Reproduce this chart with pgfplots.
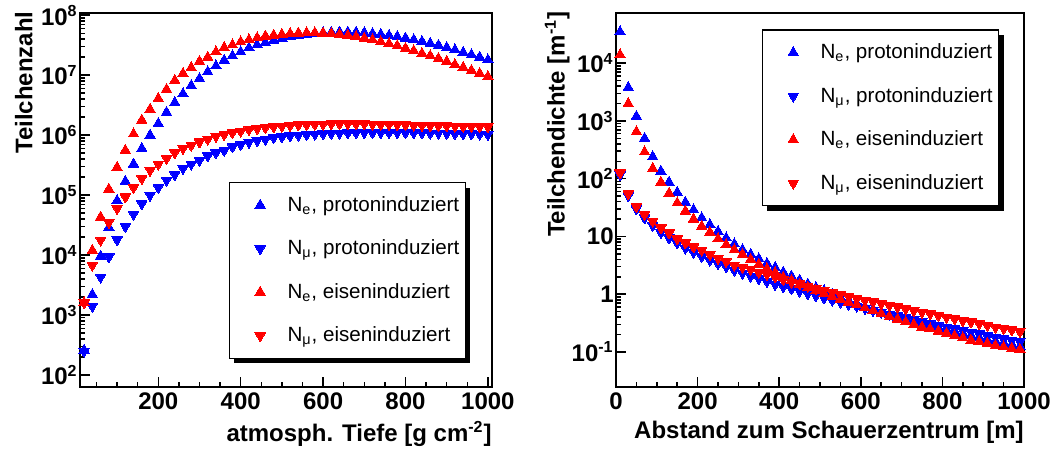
\documentclass[border=0pt]{standalone}
\usepackage{fontspec}
\setmainfont{Liberation Sans}
\usepackage{pgfplots}
\usepackage{pgfplotstable}
\pgfplotsset{compat=1.18}
\usetikzlibrary{shadows}

\pgfplotstableread{
x nep nmup nefe nmufe
20 260 250 1600 1600
40 2200 1400 12000 6800
60 9600 4300 43000 17800
80 29000 9300 126000 35000
100 81000 18000 290000 60000
120 170000 30000 560000 93000
140 330000 48000 1050000 134000
160 600000 72000 1780000 190000
180 1000000 100000 2700000 260000
200 1560000 134000 4100000 330000
220 2400000 178000 5800000 410000
240 3500000 220000 8200000 510000
260 4900000 280000 10700000 600000
280 6700000 330000 13400000 680000
300 8800000 380000 17000000 770000
320 11400000 450000 20000000 860000
340 14300000 510000 24500000 960000
360 17800000 560000 29000000 1030000
380 21000000 640000 32000000 1100000
400 24500000 700000 36000000 1170000
420 28500000 760000 39000000 1240000
440 32000000 810000 42000000 1290000
460 35000000 850000 45000000 1340000
480 38000000 910000 46500000 1380000
500 41000000 940000 48000000 1420000
520 43500000 970000 49500000 1450000
540 46000000 1000000 50500000 1480000
560 48000000 1020000 51000000 1500000
580 49500000 1040000 51000000 1520000
600 51000000 1060000 50500000 1530000
620 52000000 1070000 49500000 1540000
640 52500000 1080000 48000000 1550000
660 52500000 1090000 46000000 1550000
680 52000000 1100000 44000000 1550000
700 51000000 1100000 41500000 1540000
720 49500000 1100000 39000000 1530000
740 48000000 1100000 36000000 1520000
760 46000000 1100000 33500000 1510000
780 44000000 1100000 31000000 1500000
800 41500000 1100000 28000000 1490000
820 39000000 1090000 25500000 1470000
840 36500000 1090000 23000000 1460000
860 34000000 1080000 21000000 1450000
880 31500000 1080000 19000000 1440000
900 29000000 1070000 17000000 1430000
920 26500000 1060000 15000000 1420000
940 24000000 1050000 13500000 1410000
960 22000000 1050000 12000000 1400000
980 20000000 1040000 10700000 1390000
1000 18000000 1030000 9500000 1380000
}\tabdepth

\pgfplotstableread{
x nep nmup nefe nmufe
10 35000 117 14000 126
30 3800 51 2000 55
50 1200 30 650 33
70 500 21 290 24
90 240 15.5 150 18.4
110 135 11.8 87 14
130 87 9.4 56 11.5
150 58 7.7 38 9.1
170 39 6.3 27.5 7.7
190 29 5.3 20 6.6
210 21 4.5 15 5.8
230 16 3.9 11.8 4.9
250 12.2 3.4 9.1 4.2
270 9.4 3.0 7.2 3.7
290 7.4 2.6 5.9 3.2
310 5.9 2.3 4.9 2.95
330 4.9 2.05 4.0 2.7
350 4.1 1.85 3.3 2.4
370 3.4 1.66 2.75 2.2
390 2.9 1.48 2.35 2.0
410 2.4 1.34 1.96 1.8
430 2.05 1.24 1.74 1.62
450 1.75 1.13 1.5 1.52
470 1.5 1.02 1.3 1.37
490 1.3 0.94 1.15 1.26
510 1.15 0.86 1.02 1.16
530 1.0 0.79 0.91 1.07
550 0.88 0.73 0.82 0.99
570 0.78 0.67 0.73 0.92
590 0.69 0.62 0.65 0.85
610 0.61 0.57 0.58 0.79
630 0.55 0.53 0.52 0.74
650 0.49 0.49 0.46 0.69
670 0.44 0.45 0.41 0.64
690 0.40 0.42 0.37 0.60
710 0.37 0.39 0.33 0.56
730 0.34 0.36 0.30 0.52
750 0.31 0.335 0.27 0.49
770 0.29 0.31 0.25 0.46
790 0.27 0.29 0.23 0.43
810 0.25 0.27 0.21 0.40
830 0.23 0.25 0.19 0.375
850 0.21 0.235 0.175 0.35
870 0.195 0.22 0.16 0.33
890 0.18 0.205 0.15 0.31
910 0.165 0.19 0.14 0.29
930 0.155 0.18 0.13 0.27
950 0.145 0.17 0.122 0.255
970 0.135 0.16 0.115 0.24
990 0.125 0.15 0.11 0.225
}\tabdist

\pgfplotsset{
  legend image code/.code={%
    \path (-0.5cm,0cm) (0.4cm,0cm);
    \draw[#1] plot coordinates {(0cm,0cm)};},
  pup/.style={only marks, mark=triangle*, mark size=3pt, mark options={fill=#1, draw=#1, line width=0pt}, color=#1},
  pdown/.style={only marks, mark=triangle*, mark size=3pt, mark options={fill=#1, draw=#1, line width=0pt, rotate=180}, color=#1},
}

\begin{document}
\begin{tikzpicture}
\path (0pt,0pt) rectangle (532pt,226.5pt);

\begin{axis}[
  scale only axis, height=187pt,
  ymode=log,
  axis line style={line width=0.75pt},
  every tick/.style={line width=0.75pt, black},
  tick align=inside, tick pos=left,
  major tick length=5pt, minor tick length=2.6pt,
  ticklabel style={font=\bfseries\fontsize{12}{14}\selectfont},
  xticklabel style={inner sep=1pt, yshift=-1.5pt},
  yticklabel style={inner sep=1pt},
  label style={font=\bfseries\fontsize{12}{14}\selectfont, inner sep=0pt},
  xlabel style={at={(rel axis cs:1,0)}, anchor=north east, yshift=-17pt},
  clip=false,
  legend cell align=left,
  legend style={draw=black, line width=0.6pt, fill=white,
    font=\fontsize{10.3}{12}\selectfont,
    inner xsep=1pt, inner ysep=4.75pt, row sep=8.8pt,
    drop shadow={shadow xshift=2.5pt, shadow yshift=-2.5pt, opacity=1, fill=black}},
  at={(40pt,33pt)}, anchor=south west,
  width=206pt,
  xmin=10, xmax=1010,
  ymin=63, ymax=1.09e8,
  xtick={200,400,600,800,1000},
  xticklabels={200,400,600,800,1000},
  minor xtick={50,100,...,1000},
  ytick={1e2,1e3,1e4,1e5,1e6,1e7,1e8},
  yticklabels={10\textsuperscript{2},10\textsuperscript{3},10\textsuperscript{4},10\textsuperscript{5},10\textsuperscript{6},10\textsuperscript{7},10\textsuperscript{8}},
  xlabel={atmosph. Tiefe [g cm\textsuperscript{-2}]},
  ylabel={Teilchenzahl},
  ylabel style={at={(axis description cs:-0.114,1.005)}, anchor=south east},
  legend style={at={(axis description cs:0.937,0.548)}, anchor=north east},
]
\addplot[pup=blue] table[x=x, y=nep] {\tabdepth};
\addlegendentry{N\textsubscript{e}, protoninduziert}
\addplot[pdown=blue] table[x=x, y=nmup] {\tabdepth};
\addlegendentry{N\textsubscript{μ}, protoninduziert}
\addplot[pup=red] table[x=x, y=nefe] {\tabdepth};
\addlegendentry{N\textsubscript{e}, eiseninduziert}
\addplot[pdown=red] table[x=x, y=nmufe] {\tabdepth};
\addlegendentry{N\textsubscript{μ}, eiseninduziert}
\end{axis}

\begin{axis}[
  scale only axis, height=187pt,
  ymode=log,
  axis line style={line width=0.75pt},
  every tick/.style={line width=0.75pt, black},
  tick align=inside, tick pos=left,
  major tick length=5pt, minor tick length=2.6pt,
  ticklabel style={font=\bfseries\fontsize{12}{14}\selectfont},
  xticklabel style={inner sep=1pt, yshift=-1.5pt},
  yticklabel style={inner sep=1pt},
  label style={font=\bfseries\fontsize{12}{14}\selectfont, inner sep=0pt},
  xlabel style={at={(rel axis cs:1,0)}, anchor=north east, yshift=-17pt},
  clip=false,
  legend cell align=left,
  legend style={draw=black, line width=0.6pt, fill=white,
    font=\fontsize{10.3}{12}\selectfont,
    inner xsep=1pt, inner ysep=4.75pt, row sep=8.8pt,
    drop shadow={shadow xshift=2.5pt, shadow yshift=-2.5pt, opacity=1, fill=black}},
  at={(308pt,33pt)}, anchor=south west,
  width=204pt,
  xmin=0, xmax=1000,
  ymin=0.0247, ymax=7.4e4,
  xtick={0,200,400,600,800,1000},
  xticklabels={0,200,400,600,800,1000},
  minor xtick={50,100,...,1000},
  ytick={0.1,1,10,100,1000,10000},
  yticklabels={10\textsuperscript{-1},1,10,10\textsuperscript{2},10\textsuperscript{3},10\textsuperscript{4}},
  xlabel={Abstand zum Schauerzentrum [m]},
  ylabel={Teilchendichte [m\textsuperscript{-1}]},
  ylabel style={at={(axis description cs:-0.113,1.005)}, anchor=south east},
  legend style={at={(axis description cs:0.939,0.956)}, anchor=north east},
]
\addplot[pup=blue] table[x=x, y=nep] {\tabdist};
\addlegendentry{N\textsubscript{e}, protoninduziert}
\addplot[pdown=blue] table[x=x, y=nmup] {\tabdist};
\addlegendentry{N\textsubscript{μ}, protoninduziert}
\addplot[pup=red] table[x=x, y=nefe] {\tabdist};
\addlegendentry{N\textsubscript{e}, eiseninduziert}
\addplot[pdown=red] table[x=x, y=nmufe] {\tabdist};
\addlegendentry{N\textsubscript{μ}, eiseninduziert}
\end{axis}
\end{tikzpicture}
\end{document}
